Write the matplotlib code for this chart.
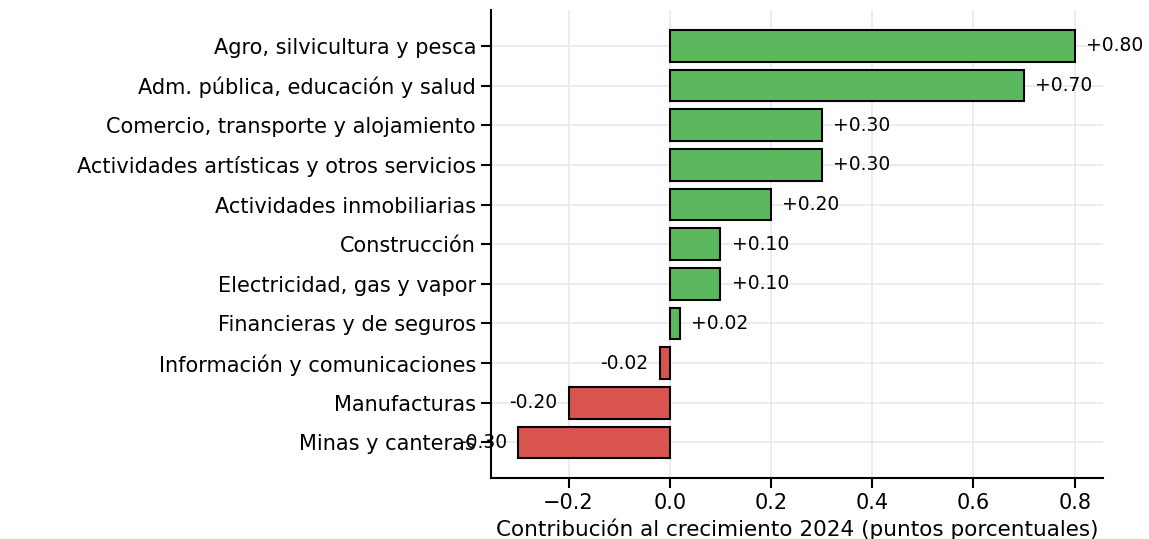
import matplotlib
matplotlib.use("Agg")
import matplotlib.pyplot as plt

sectors = [
    "Agro, silvicultura y pesca",
    "Adm. pública, educación y salud",
    "Comercio, transporte y alojamiento",
    "Actividades artísticas y otros servicios",
    "Actividades inmobiliarias",
    "Construcción",
    "Electricidad, gas y vapor",
    "Financieras y de seguros",
    "Información y comunicaciones",
    "Manufacturas",
    "Minas y canteras",
]
contrib = [0.80, 0.70, 0.30, 0.30, 0.20, 0.10, 0.10, 0.02, -0.02, -0.20, -0.30]

green = "#5cb85c"
red = "#d9534f"

fig = plt.figure(figsize=(11.49, 5.39), dpi=100)
ax = fig.add_axes([0.427, 0.113, 0.533, 0.868])

ypos = list(range(len(sectors)))[::-1]
colors = [green if v >= 0 else red for v in contrib]
ax.barh(ypos, contrib, height=0.8, color=colors, edgecolor="black", linewidth=1.5, zorder=3)

for y, v in zip(ypos, contrib):
    if v >= 0:
        ax.text(v + 0.022, y, f"+{v:.2f}", va="center", ha="left", fontsize=13.5)
    else:
        ax.text(v - 0.022, y, f"{v:.2f}", va="center", ha="right", fontsize=13.5)

ax.set_yticks(ypos)
ax.set_yticklabels(sectors, fontsize=15)
ax.set_xticks([-0.2, 0.0, 0.2, 0.4, 0.6, 0.8])
ax.set_xticklabels(["\u22120.2", "0.0", "0.2", "0.4", "0.6", "0.8"])
ax.tick_params(axis="x", labelsize=15, length=7, width=1.5)
ax.tick_params(axis="y", length=7, width=1.5)
ax.set_xlabel("Contribución al crecimiento 2024 (puntos porcentuales)", fontsize=15.5)
ax.set_xlim(-0.354, 0.856)
ax.set_ylim(-0.9, 10.9)

ax.grid(True, color="#e9e9f0", linewidth=1.3, zorder=0)
ax.set_axisbelow(True)
for s in ["top", "right"]:
    ax.spines[s].set_visible(False)
for s in ["left", "bottom"]:
    ax.spines[s].set_linewidth(1.5)

fig.savefig("out.png", dpi=100)
